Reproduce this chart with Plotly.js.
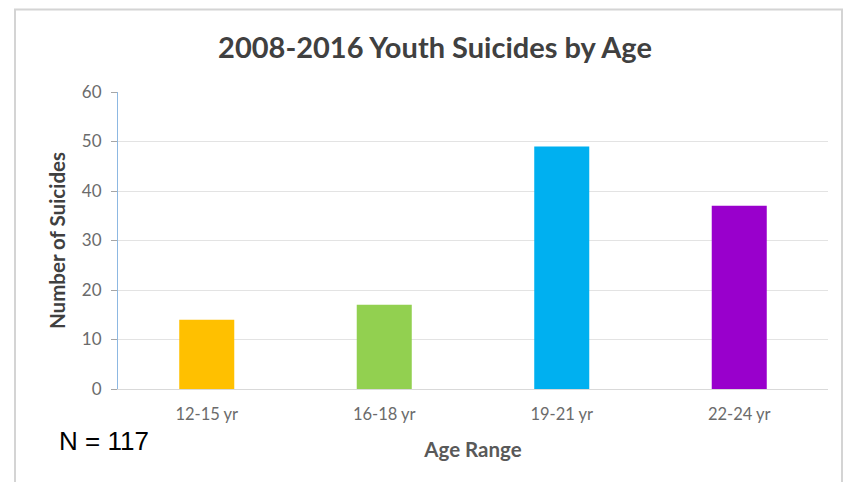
<!DOCTYPE html>
<html>
<head>
<meta charset="utf-8">
<script src="https://cdn.plot.ly/plotly-3.0.1.min.js"></script>
<style>html,body{margin:0;padding:0;background:#fff;}#chart{width:843px;height:482px;}</style>
</head>
<body>
<div id="chart"></div>
<script>
const categories = ["12-15 yr", "16-18 yr", "19-21 yr", "22-24 yr"];
const suicides = [14, 17, 49, 37];
const barColors = ["#FFC000", "#92D050", "#00B0F0", "#9900CC"];
const yTicks = [0, 10, 20, 30, 40, 50, 60];
const titleText = "2008-2016 Youth Suicides by Age";
const xTitle = "Age Range";
const yTitle = "Number of Suicides";
const noteText = "N = 117";

const font = "Lato, 'Open Sans', sans-serif";
const data = [{
  type: "bar",
  x: categories,
  y: suicides,
  marker: {color: barColors},
  hoverinfo: "x+y"
}];

const layout = {
  width: 843, height: 482,
  margin: {l: 118, r: 15, t: 92, b: 93},
  paper_bgcolor: "#ffffff",
  plot_bgcolor: "#ffffff",
  bargap: 0.69,
  showlegend: false,
  font: {family: font, color: "#595959"},
  title: {
    text: "<b>" + titleText + "</b>",
    font: {family: font, size: 29, color: "#404040"},
    x: 435/843, xref: "container", xanchor: "center",
    y: 1 - 48/482, yref: "container", yanchor: "middle"
  },
  xaxis: {
    type: "category",
    showline: true, linecolor: "#D9D9D9", linewidth: 1,
    ticks: "", showgrid: false, zeroline: false,
    ticklabelstandoff: 10,
    tickfont: {family: font, size: 16.5, color: "#6B6B6B"},
    title: {text: "<b>" + xTitle + "</b>", font: {family: font, size: 20.5, color: "#595959"}, standoff: 19}
  },
  yaxis: {
    range: [0, 60],
    tickvals: yTicks,
    showline: true, linecolor: "#8DB8E2", linewidth: 1,
    ticks: "outside", ticklen: 6, tickcolor: "#A6A6A6",
    ticklabelstandoff: 6,
    showgrid: true, gridcolor: "#E3E3E3", gridwidth: 1,
    zeroline: false,
    tickfont: {family: font, size: 17, color: "#6B6B6B"},
    title: {text: "<b>" + yTitle + "</b>", font: {family: font, size: 20.5, color: "#404040"}, standoff: 10}
  },
  shapes: [{
    type: "rect", xref: "paper", yref: "paper",
    x0: (15 - 118) / 710, x1: (842 - 118) / 710,
    y0: -0.5, y1: (389 - 9.5) / 297,
    line: {color: "#D4D4D4", width: 2}, fillcolor: "rgba(0,0,0,0)", layer: "below"
  }],
  annotations: [{
    text: noteText, xref: "paper", yref: "paper",
    x: (57 - 118) / 710, y: (389 - 441) / 297,
    xanchor: "left", yanchor: "middle", showarrow: false,
    font: {family: "'Liberation Sans', Arial, sans-serif", size: 26, color: "#000000"}
  }]
};

Plotly.newPlot("chart", data, layout, {displayModeBar: false, staticPlot: true});
</script>
</body>
</html>
